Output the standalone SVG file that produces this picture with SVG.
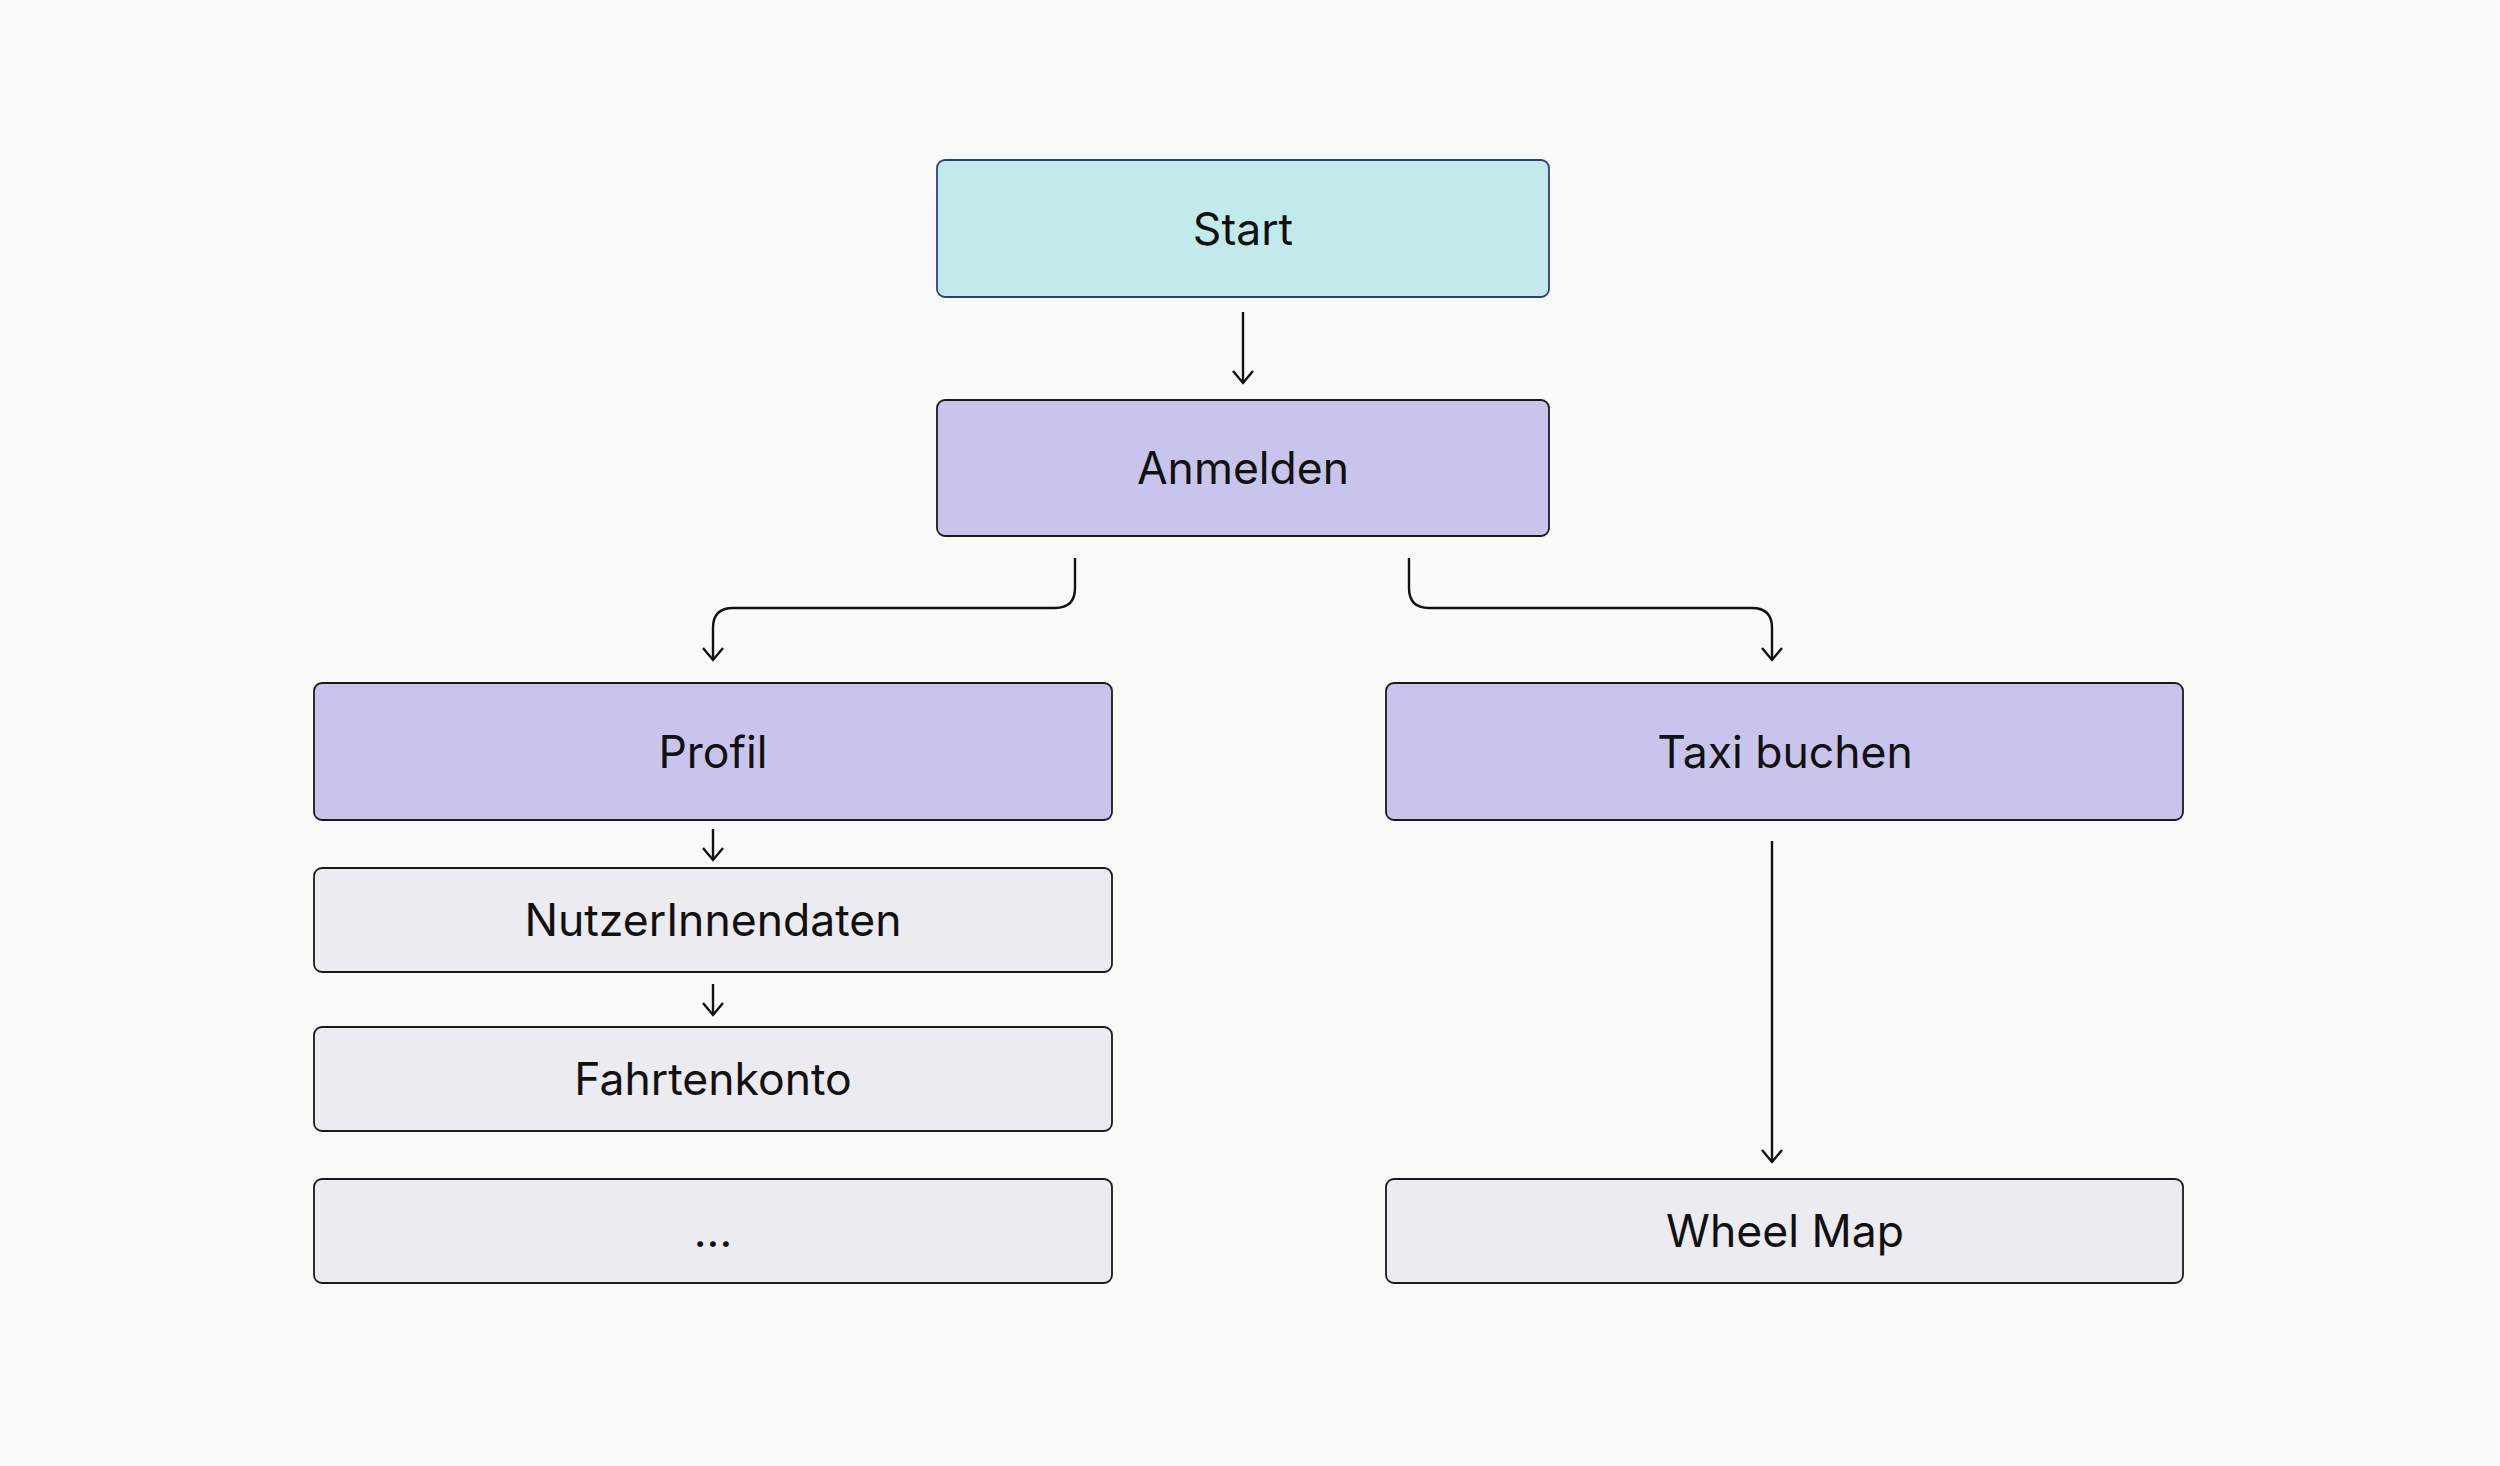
<svg xmlns="http://www.w3.org/2000/svg" width="2500" height="1466" viewBox="0 0 2500 1466">
<defs>
<marker id="arr" markerUnits="userSpaceOnUse" markerWidth="30" markerHeight="30" refX="0" refY="0" orient="auto" overflow="visible">
<path d="M-12 -10 L0 0 L-12 10" fill="none" stroke="#111" stroke-width="2.4" stroke-linejoin="miter"/>
</marker>
<style>
.box{stroke:#1a1a1a;stroke-width:1.8}
.start{fill:#c3eaea;stroke:#2e3f78;stroke-width:1.8}
.purple{fill:#c9c4ec}
.gray{fill:#ecebf0}
.lbl{font-family:Inter,"Liberation Sans",sans-serif;font-size:44.5px;fill:#111;text-anchor:middle}
.con{fill:none;stroke:#111;stroke-width:2.4;marker-end:url(#arr)}
</style>
</defs>
<rect width="2500" height="1466" fill="#f8faf8"/>
<g id="connectors">
<path class="con" d="M1243 312 V383"/>
<path class="con" d="M1075 558 V588 Q1075 608 1055 608 H733 Q713 608 713 628 V660"/>
<path class="con" d="M1409 558 V588 Q1409 608 1429 608 H1752 Q1772 608 1772 628 V660"/>
<path class="con" d="M713 829 V860"/>
<path class="con" d="M713 984 V1015"/>
<path class="con" d="M1772 841 V1162"/>
</g>
<g id="start"><rect class="start" x="937" y="160" width="612" height="137" rx="8"/><text class="lbl" x="1243" y="245">Start</text></g>
<g id="anmelden"><rect class="box purple" x="937" y="400" width="612" height="136" rx="8"/><text class="lbl" x="1243" y="484">Anmelden</text></g>
<g id="profil"><rect class="box purple" x="314" y="683" width="798" height="137" rx="8"/><text class="lbl" x="713" y="768">Profil</text></g>
<g id="taxi"><rect class="box purple" x="1386" y="683" width="797" height="137" rx="8"/><text class="lbl" x="1785" y="768">Taxi buchen</text></g>
<g id="nutzer"><rect class="box gray" x="314" y="868" width="798" height="104" rx="8"/><text class="lbl" x="713" y="936">NutzerInnendaten</text></g>
<g id="fahrten"><rect class="box gray" x="314" y="1027" width="798" height="104" rx="8"/><text class="lbl" x="713" y="1095">Fahrtenkonto</text></g>
<g id="more"><rect class="box gray" x="314" y="1179" width="798" height="104" rx="8"/><text class="lbl" x="713" y="1247">...</text></g>
<g id="wheelmap"><rect class="box gray" x="1386" y="1179" width="797" height="104" rx="8"/><text class="lbl" x="1785" y="1247">Wheel Map</text></g>
</svg>
